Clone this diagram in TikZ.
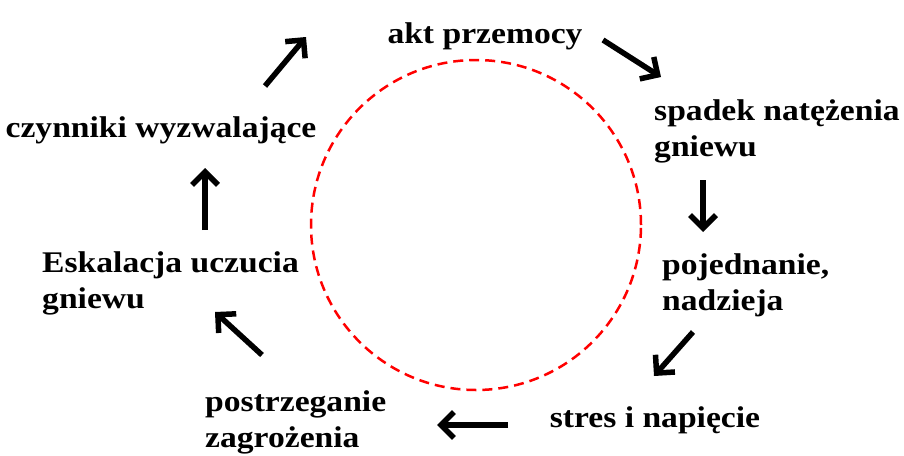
\documentclass[tikz,border=0pt]{standalone}
\usepackage{fontspec}
\setmainfont{Liberation Serif}[FakeStretch=1.12]
\usetikzlibrary{arrows.meta}

\begin{document}
\begin{tikzpicture}[x=1pt, y=-1pt,
    txt/.style = {inner sep=0pt, align=left,
        font=\fontsize{30}{36}\selectfont\bfseries},
    msg/.style = {-{Straight Barb[length=13pt,width=26pt]}, line width=5.5pt},
    ring/.style = {circle, draw=red, line width=2.5pt,
        dash pattern=on 10pt off 6pt, inner sep=0pt, minimum size=330pt},
]
\useasboundingbox (0,0) rectangle (904,455);

\node[ring] (Ring) at (476,225) {};

\node[txt, anchor=base] (Akt) at (485,43) {akt przemocy};
\node[txt, anchor=base west] (Spadek) at (654,156) {spadek natężenia\\gniewu};
\node[txt, anchor=base west] (Pojed) at (662,310) {pojednanie,\\nadzieja};
\node[txt, anchor=base] (Stres) at (655,427) {stres i napięcie};
\node[txt, anchor=base west] (Postrz) at (205,447) {postrzeganie\\zagrożenia};
\node[txt, anchor=base west] (Eskal) at (42,308) {Eskalacja uczucia\\gniewu};
\node[txt, anchor=base] (Czyn) at (161,137) {czynniki wyzwalające};

% arrow ends
\coordinate (c1a) at (265,86);  \coordinate (c1b) at (306,37);
\coordinate (c2a) at (603,40);  \coordinate (c2b) at (661,77);
\coordinate (c3a) at (703,180); \coordinate (c3b) at (703,232);
\coordinate (c4a) at (693,332); \coordinate (c4b) at (654,376);
\coordinate (c5a) at (508,425); \coordinate (c5b) at (437,425);
\coordinate (c6a) at (262,355); \coordinate (c6b) at (215,312);
\coordinate (c7a) at (205,230); \coordinate (c7b) at (205,168);

\foreach \i in {1,...,7}
    \draw[msg] (c\i a) -- (c\i b);

\end{tikzpicture}
\end{document}
